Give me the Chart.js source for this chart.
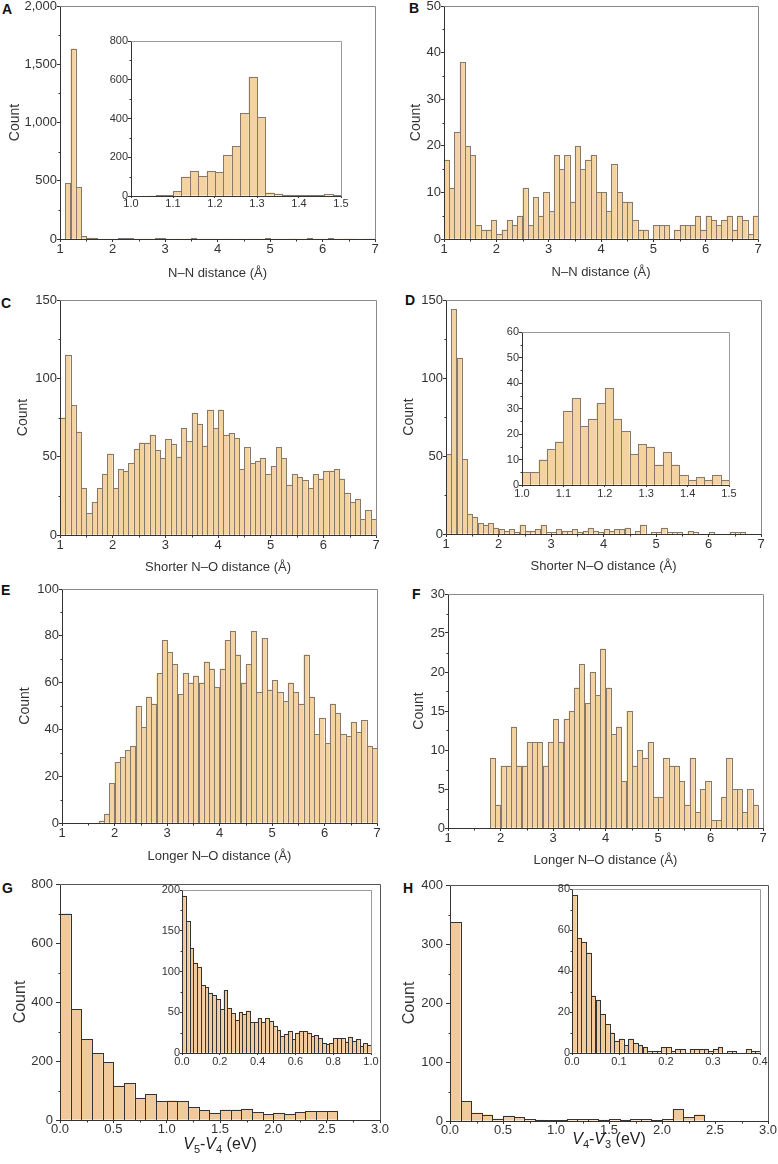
<!DOCTYPE html>
<html>
<head>
<meta charset="utf-8">
<script src="https://cdn.jsdelivr.net/npm/chart.js@4.4.1/dist/chart.umd.min.js"></script>
<style>
  html, body { margin: 0; padding: 0; background: #fff; }
  #page { position: relative; width: 778px; height: 1164px; overflow: hidden; }
  #page canvas { position: absolute; }
  .tag { position: absolute; font: bold 14px "Liberation Sans", Arial, sans-serif; line-height: 14px; color: #111; }
</style>
</head>
<body>
<div id="page">
  <div class="tag" style="left:2px;top:2px">A</div>
  <div class="tag" style="left:409px;top:1px">B</div>
  <div class="tag" style="left:1px;top:296px">C</div>
  <div class="tag" style="left:405px;top:293px">D</div>
  <div class="tag" style="left:1px;top:583px">E</div>
  <div class="tag" style="left:412px;top:587px">F</div>
  <div class="tag" style="left:2px;top:881px">G</div>
  <div class="tag" style="left:403px;top:881px">H</div>
</div>
<script>
// counts per bin

// A: N–N distance, 0.1 Å bins from 1.0 Å
const nnCountsA = [0, 481, 1635, 447, 24, 12, 10, 4, 3, 3,
  4, 6, 8, 8, 3, 2, 2, 3, 5, 5,
  4, 3, 2, 3, 2, 6, 3, 2, 2, 2,
  3, 2, 2, 3, 2, 3, 2, 2, 3, 5,
  2, 2, 3, 2, 1, 2, 3, 8, 3, 2,
  2, 5, 3, 2, 1, 1, 2, 4, 2, 1];
// A inset: 0.02 Å bins from 1.00 Å
const nnZoomA = [0, 0, 1, 3, 5, 25, 100, 127, 102, 127,
  123, 212, 258, 427, 615, 407, 18, 12, 6, 4,
  3, 3, 3, 10, 5];
// B: N–N distance
const nnCountsB = [17, 11, 23, 38, 20, 18, 3, 2, 2, 4,
  1, 2, 4, 3, 5, 11, 3, 9, 5, 10,
  6, 18, 15, 18, 8, 20, 15, 17, 18, 10,
  10, 6, 16, 10, 8, 8, 4, 2, 2, 0,
  3, 3, 3, 0, 2, 3, 3, 3, 5, 2,
  5, 4, 3, 4, 5, 2, 5, 4, 1, 5];
// C: shorter N–O distance
const shortNOCountsC = [75, 115, 83, 66, 30, 14, 21, 30, 39, 52,
  30, 42, 41, 46, 55, 59, 59, 64, 54, 49,
  61, 58, 50, 68, 60, 78, 71, 57, 80, 68,
  80, 64, 65, 62, 42, 56, 46, 47, 49, 39,
  44, 56, 49, 32, 39, 37, 35, 30, 39, 36,
  41, 41, 42, 36, 27, 21, 23, 10, 16, 10];
// D: shorter N–O distance
const shortNOCountsD = [51, 144, 113, 48, 13, 11, 7, 6, 7, 4,
  3, 2, 3, 1, 6, 2, 2, 3, 6, 1,
  1, 3, 2, 2, 3, 1, 2, 4, 2, 1,
  3, 2, 3, 3, 4, 0, 2, 6, 0, 1,
  1, 4, 1, 1, 1, 0, 2, 1, 0, 0,
  1, 0, 0, 0, 1, 1, 1, 0, 0, 0];
const shortNOZoomD = [5, 5, 10, 14, 17, 29, 34, 23, 26, 32,
  38, 26, 21, 12, 16, 15, 8, 13, 8, 4,
  2, 3, 2, 4, 2];
// E: longer N–O distance
const longNOCountsE = [0, 0, 0, 0, 0, 0, 0, 1, 4, 17,
  26, 28, 31, 33, 50, 41, 54, 51, 64, 78,
  73, 68, 55, 64, 60, 63, 60, 69, 66, 58,
  66, 78, 82, 72, 60, 68, 82, 56, 79, 57,
  61, 56, 52, 60, 56, 51, 72, 54, 38, 45,
  34, 51, 47, 38, 37, 43, 39, 44, 33, 32];
// F: longer N–O distance
const longNOCountsF = [0, 0, 0, 0, 0, 0, 0, 0, 9, 3,
  8, 8, 13, 8, 8, 11, 11, 11, 8, 11,
  14, 11, 14, 15, 18, 21, 16, 20, 17, 23,
  18, 12, 13, 6, 15, 8, 10, 9, 11, 4,
  4, 9, 8, 8, 6, 3, 9, 2, 5, 6,
  1, 1, 4, 9, 5, 5, 2, 5, 3, 0];
// G: V5 - V4, 0.1 eV bins from 0
const v54Counts = [700, 375, 275, 227, 196, 116, 125, 75, 88, 63,
  66, 63, 43, 33, 24, 35, 35, 38, 26, 20,
  24, 20, 27, 30, 30, 31, 0, 0, 0, 0];
// G inset: 0.02 eV bins
const v54Zoom = [193, 162, 129, 111, 105, 83, 81, 74, 71, 66,
  54, 77, 55, 49, 40, 50, 48, 52, 38, 38,
  43, 38, 43, 39, 33, 28, 21, 23, 27, 17,
  25, 27, 27, 25, 21, 22, 18, 12, 11, 12,
  18, 18, 18, 14, 20, 15, 17, 9, 12, 10];
// H: V4 - V3, 0.1 eV bins from 0
const v43Counts = [337, 34, 14, 11, 4, 9, 6, 3, 2, 1,
  1, 3, 3, 3, 2, 3, 2, 3, 3, 1,
  3, 20, 6, 11, 0, 0, 0, 0, 0, 0];
// H inset: 0.01 eV bins
const v43Zoom = [77, 56, 54, 49, 28, 26, 19, 14, 10, 6,
  7, 4, 7, 5, 4, 3, 1, 1, 1, 3,
  3, 1, 2, 2, 0, 2, 2, 2, 2, 1,
  2, 3, 0, 1, 1, 0, 0, 2, 1, 1];

// axis ranges [min, max, step]
const distTicks = [1, 7, 1];
const distZoomTicks = [1.0, 1.5, 0.1];
const energyTicks = [0, 3, 0.5];
const v54ZoomTicks = [0, 1, 0.2];
const v43ZoomTicks = [0, 0.4, 0.1];

const FONT = '"Liberation Sans", Arial, Helvetica, sans-serif';
Chart.defaults.font.family = FONT;
Chart.defaults.color = '#333';
Chart.defaults.animation = false;

const page = document.getElementById('page');
const oneDecimal = v => Number(v).toFixed(1);
const plain = v => Number(v).toLocaleString('en-US');

function addCanvas(box) {
  const c = document.createElement('canvas');
  c.width = box[2] - box[0];
  c.height = box[3] - box[1];
  c.style.left = box[0] + 'px';
  c.style.top = box[1] + 'px';
  c.style.width = c.width + 'px';
  c.style.height = c.height + 'px';
  page.appendChild(c);
  return c;
}

// crisp 1px outlines around every bar (shared edges overlap instead of doubling)
function outlinePlugin(color) {
  return {
    id: 'outline',
    afterDatasetsDraw(chart) {
      const ctx = chart.ctx;
      const values = chart.data.datasets[0].data;
      ctx.save();
      ctx.strokeStyle = color;
      ctx.lineWidth = 1;
      chart.getDatasetMeta(0).data.forEach((bar, i) => {
        if (!values[i].y) return;
        const p = bar.getProps(['x', 'y', 'base', 'width'], true);
        const x0 = Math.round(p.x - p.width / 2) + 0.5;
        const x1 = Math.round(p.x + p.width / 2) + 0.5;
        const y0 = Math.round(p.y) + 0.5;
        const y1 = Math.round(p.base) + 0.5;
        ctx.strokeRect(x0, y0, x1 - x0, y1 - y0);
      });
      ctx.restore();
    }
  };
}

function framePlugin(edge, minorX, minorY) {
  return {
    id: 'frame',
    afterDraw(chart) {
      const { ctx, chartArea: a } = chart;
      const L = Math.round(a.left) + 0.5, R = Math.round(a.right) + 0.5;
      const T = Math.round(a.top) + 0.5, B = Math.round(a.bottom) + 0.5;
      ctx.save();
      ctx.lineWidth = 1;
      ctx.strokeStyle = edge;
      ctx.beginPath();
      ctx.moveTo(L, T); ctx.lineTo(R, T); ctx.lineTo(R, B);
      ctx.stroke();
      ctx.strokeStyle = '#333';
      ctx.beginPath();
      ctx.moveTo(L, T); ctx.lineTo(L, B); ctx.lineTo(R, B);
      const xs = chart.scales.x, ys = chart.scales.y;
      if (minorX) {
        for (let i = 1; i < xs.ticks.length; i++) {
          const px = Math.round(xs.getPixelForValue((xs.ticks[i - 1].value + xs.ticks[i].value) / 2)) + 0.5;
          ctx.moveTo(px, B); ctx.lineTo(px, B + 2);
        }
      }
      if (minorY) {
        for (let i = 1; i < ys.ticks.length; i++) {
          const py = Math.round(ys.getPixelForValue((ys.ticks[i - 1].value + ys.ticks[i].value) / 2)) + 0.5;
          ctx.moveTo(L - 2, py); ctx.lineTo(L, py);
        }
      }
      ctx.stroke();
      ctx.restore();
    }
  };
}

// x title with italic V and subscripts, e.g. V5-V4 (eV)
function richTitlePlugin(parts, size, baseline) {
  return {
    id: 'richTitle',
    afterDraw(chart) {
      const ctx = chart.ctx;
      const fontOf = p => (p.italic ? 'italic ' : '') + (p.sub ? Math.round(size * 0.7) : size) + 'px ' + FONT;
      ctx.save();
      let w = 0;
      parts.forEach(p => { ctx.font = fontOf(p); w += ctx.measureText(p.text).width; });
      let x = (chart.chartArea.left + chart.chartArea.right) / 2 - w / 2;
      ctx.fillStyle = '#222';
      ctx.textAlign = 'left';
      ctx.textBaseline = 'alphabetic';
      parts.forEach(p => {
        ctx.font = fontOf(p);
        ctx.fillText(p.text, x, baseline + (p.sub ? size * 0.25 : 0));
        x += ctx.measureText(p.text).width;
      });
      ctx.restore();
    }
  };
}

function histogram(s) {
  const [l, t, r, b] = s.plot;
  const [cl, ct, cr, cb] = s.box;
  const tickSize = s.inset ? 11 : 13;
  const yTitleSize = s.yTitleSize || 14;
  const points = s.counts.map((c, i) => ({ x: s.start + (i + 0.5) * s.width, y: c }));
  const plugins = [outlinePlugin(s.edge), framePlugin(s.frame, !s.inset, true)];
  if (s.rich) plugins.push(richTitlePlugin(s.rich, 16, s.richY - ct));

  new Chart(addCanvas(s.box), {
    type: 'bar',
    data: {
      datasets: [{
        data: points,
        backgroundColor: s.fill,
        borderWidth: 0,
        barPercentage: 1,
        categoryPercentage: 1,
        inflateAmount: 0
      }]
    },
    options: {
      responsive: false,
      devicePixelRatio: 1,
      animation: false,
      events: [],
      layout: { padding: { left: 0, top: t - ct, right: cr - r, bottom: 0 } },
      plugins: { legend: { display: false }, tooltip: { enabled: false } },
      scales: {
        x: {
          type: 'linear',
          min: s.x[0], max: s.x[1],
          offset: false,
          ticks: {
            stepSize: s.x[2], autoSkip: false, maxRotation: 0, color: '#333',
            font: { size: tickSize }, padding: s.xPad,
            callback: s.xFmt
          },
          grid: { display: true, drawOnChartArea: false, drawTicks: true, tickLength: s.xTick, color: '#333', offset: false },
          border: { display: false },
          title: s.xTitle
            ? { display: true, text: s.xTitle, color: '#333', font: { size: 13 }, padding: { top: 0, bottom: 2 } }
            : { display: false },
          afterFit(sc) { sc.height = cb - b; sc.paddingLeft = 0; sc.paddingRight = 0; }
        },
        y: {
          min: s.y[0], max: s.y[1],
          ticks: {
            stepSize: s.y[2], color: '#333',
            font: { size: tickSize }, padding: s.yPad,
            callback: s.yFmt || plain
          },
          grid: { display: true, drawOnChartArea: false, drawTicks: true, tickLength: s.yTick, color: '#333' },
          border: { display: false },
          title: s.yTitleX
            ? { display: true, text: 'Count', color: '#333', font: { size: yTitleSize },
                padding: { top: s.yTitleX - cl - 0.6 * yTitleSize, bottom: 0 } }
            : { display: false },
          afterFit(sc) { sc.width = l - cl; sc.paddingTop = 0; sc.paddingBottom = 0; }
        }
      }
    },
    plugins
  });
}

const warm = '#F5D3A0', warmEdge = '#85796b';
const peach = '#F2C99B', peachEdge = '#333';

// row 1
histogram({ counts: nnCountsA, start: 1.0, width: 0.1, x: distTicks, y: [0, 2000, 500],
  plot: [60, 6, 375, 239], box: [0, 0, 388, 283], xTitle: 'N–N distance (Å)', yTitleX: 15,
  fill: warm, edge: warmEdge, frame: '#8a8a8a', xTick: 3, xPad: 0, yTick: 3, yPad: 0, xFmt: plain });
histogram({ counts: nnZoomA, start: 1.0, width: 0.02, x: distZoomTicks, y: [0, 800, 200], inset: true,
  plot: [131, 41, 341, 196], box: [96, 33, 353, 214],
  fill: warm, edge: warmEdge, frame: '#9a9a9a', xTick: 2, xPad: -1, yTick: 3, yPad: 0, xFmt: oneDecimal });
histogram({ counts: nnCountsB, start: 1.0, width: 0.1, x: distTicks, y: [0, 50, 10],
  plot: [444, 6, 758, 239], box: [389, 0, 778, 282], xTitle: 'N–N distance (Å)', yTitleX: 416,
  fill: warm, edge: warmEdge, frame: '#8a8a8a', xTick: 3, xPad: 0, yTick: 3, yPad: 0, xFmt: plain });

// row 2
histogram({ counts: shortNOCountsC, start: 1.0, width: 0.1, x: distTicks, y: [0, 150, 50],
  plot: [60, 300, 376, 535], box: [0, 290, 388, 577], xTitle: 'Shorter N–O distance (Å)', yTitleX: 23,
  fill: warm, edge: warmEdge, frame: '#8a8a8a', xTick: 3, xPad: 0, yTick: 3, yPad: 0, xFmt: plain });
histogram({ counts: shortNOCountsD, start: 1.0, width: 0.1, x: distTicks, y: [0, 150, 50],
  plot: [446, 300, 761, 534], box: [389, 290, 778, 576], xTitle: 'Shorter N–O distance (Å)', yTitleX: 409,
  fill: warm, edge: warmEdge, frame: '#8a8a8a', xTick: 3, xPad: 0, yTick: 3, yPad: 0, xFmt: plain });
histogram({ counts: shortNOZoomD, start: 1.0, width: 0.02, x: distZoomTicks, y: [0, 60, 10], inset: true,
  plot: [522, 332, 729, 485], box: [487, 324, 741, 503],
  fill: warm, edge: warmEdge, frame: '#9a9a9a', xTick: 2, xPad: 0, yTick: 3, yPad: 0, xFmt: oneDecimal });

// row 3
histogram({ counts: longNOCountsE, start: 1.0, width: 0.1, x: distTicks, y: [0, 100, 20],
  plot: [62, 589, 377, 823], box: [0, 580, 388, 866], xTitle: 'Longer N–O distance (Å)', yTitleX: 25,
  fill: warm, edge: warmEdge, frame: '#8a8a8a', xTick: 3, xPad: 0, yTick: 3, yPad: 0, xFmt: plain });
histogram({ counts: longNOCountsF, start: 1.0, width: 0.1, x: distTicks, y: [0, 30, 5],
  plot: [448, 594, 763, 828], box: [389, 580, 778, 870], xTitle: 'Longer N–O distance (Å)', yTitleX: 419,
  fill: warm, edge: warmEdge, frame: '#8a8a8a', xTick: 3, xPad: 0, yTick: 3, yPad: 0, xFmt: plain });

// row 4
histogram({ counts: v54Counts, start: 0, width: 0.1, x: energyTicks, y: [0, 800, 200],
  plot: [60, 884, 380, 1120], box: [0, 870, 389, 1164], yTitleX: 21, yTitleSize: 16,
  rich: [{ text: 'V', italic: true }, { text: '5', sub: true }, { text: '-' },
         { text: 'V', italic: true }, { text: '4', sub: true }, { text: ' (eV)' }], richY: 1149,
  fill: peach, edge: peachEdge, frame: '#555', xTick: 3, xPad: -1, yTick: 4, yPad: 3, xFmt: oneDecimal });
histogram({ counts: v54Zoom, start: 0, width: 0.02, x: v54ZoomTicks, y: [0, 200, 50], inset: true,
  plot: [182, 890, 371, 1053], box: [147, 882, 383, 1071],
  fill: peach, edge: peachEdge, frame: '#9a9a9a', xTick: 2, xPad: 0, yTick: 2, yPad: 0, xFmt: oneDecimal });
histogram({ counts: v43Counts, start: 0, width: 0.1, x: energyTicks, y: [0, 400, 100],
  plot: [450, 885, 768, 1121], box: [389, 870, 778, 1164], yTitleX: 410, yTitleSize: 16,
  rich: [{ text: 'V', italic: true }, { text: '4', sub: true }, { text: '-' },
         { text: 'V', italic: true }, { text: '3', sub: true }, { text: ' (eV)' }], richY: 1144,
  fill: peach, edge: peachEdge, frame: '#555', xTick: 3, xPad: -1, yTick: 4, yPad: 3, xFmt: oneDecimal });
histogram({ counts: v43Zoom, start: 0, width: 0.01, x: v43ZoomTicks, y: [0, 80, 20], inset: true,
  plot: [572, 889, 760, 1053], box: [542, 881, 772, 1071],
  fill: peach, edge: peachEdge, frame: '#9a9a9a', xTick: 2, xPad: 0, yTick: 2, yPad: 0, xFmt: oneDecimal });
</script>
</body>
</html>
